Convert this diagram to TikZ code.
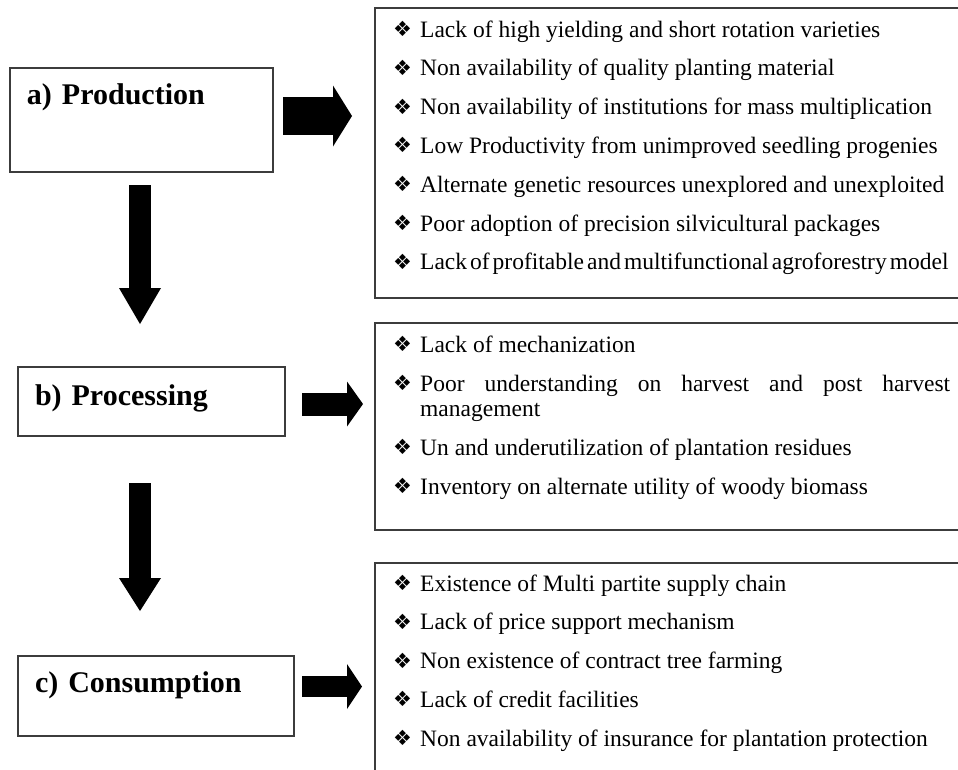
\documentclass[tikz,border=0pt]{standalone}
\usepackage{fontspec}
\setmainfont{Liberation Serif}
\newfontfamily\dingfont{DejaVu Sans}
\usetikzlibrary{arrows.meta}
\definecolor{framegray}{RGB}{60,60,60}
\newcommand\issue[1]{\hangindent=27pt\hangafter=1\noindent\makebox[27pt][l]{\raisebox{0.5pt}{\fontsize{21}{25}\dingfont ❖}}#1\par}
\newcommand\listsetup{\setlength\parskip{13.8pt}\tolerance=9999\relax\hyphenpenalty=10000\relax}
\begin{document}
\begin{tikzpicture}[x=1pt,y=-1pt,
  stage/.style={draw=framegray,line width=1.2pt,anchor=north west,outer sep=0pt,inner xsep=17pt,inner ysep=0pt,align=left,font=\fontsize{30}{36}\selectfont\bfseries},
  listframe/.style={draw=framegray,line width=2pt,anchor=north west,outer sep=0pt,inner sep=0pt,minimum width=700pt},
  listtext/.style={anchor=base west,inner sep=0pt,text width=557pt,align=justify,font=\fontsize{23.5}{25}\selectfont}]
\useasboundingbox (0,0) rectangle (958,769);
\clip (0,0) rectangle (958,769);

% stages
\node[stage,text width=229pt,text height=36pt,text depth=68pt] (prod) at (10,68) {a) Production};
\node[stage,text width=233pt,text height=38pt,text depth=31pt] (proc) at (18,367) {b) Processing};
\node[stage,text width=242pt,text height=36pt,text depth=44pt] (cons) at (18,656) {c) Consumption};

% frames on the right
\node[listframe,minimum height=290pt] (prodframe) at (375,8) {};
\node[listframe,minimum height=207pt] (procframe) at (375,323) {};
\node[listframe,minimum height=300pt] (consframe) at (375,563) {};

\node[listtext] (prodlist) at (393,37) {\listsetup
\issue{Lack of high yielding and short rotation varieties}
\issue{Non availability of quality planting material}
\issue{Non availability of institutions for mass multiplication}
\issue{Low Productivity from unimproved seedling progenies}
\issue{Alternate genetic resources unexplored and unexploited}
\issue{Poor adoption of precision silvicultural packages}
{\spaceskip=3pt plus 1pt minus 1pt\issue{Lack of profitable and multifunctional agroforestry model}}};

\node[listtext] (proclist) at (393,352) {\listsetup\setlength\parskip{14pt}%
\issue{Lack of mechanization}
\issue{Poor understanding on harvest and post harvest management}
\issue{Un and underutilization of plantation residues}
\issue{Inventory on alternate utility of woody biomass}};

\node[listtext] (conslist) at (393,591) {\listsetup
\issue{Existence of Multi partite supply chain}
\issue{Lack of price support mechanism}
\issue{Non existence of contract tree farming}
\issue{Lack of credit facilities}
\issue{Non availability of insurance for plantation protection}};

% block arrows
\draw[line width=38pt,-{Triangle[width=61pt 0 0,length=19pt 0 0,line width=0pt 0 0]},shorten <=10pt,shorten >=23pt,transform canvas={yshift=4pt}] (prod.east) -- (prod.east -| prodframe.west);
\draw[line width=23pt,-{Triangle[width=45pt 0 0,length=16pt 0 0,line width=0pt 0 0]},shorten <=17pt,shorten >=12pt,transform canvas={yshift=-2.5pt}] (proc.east) -- (proc.east -| procframe.west);
\draw[line width=21pt,-{Triangle[width=45pt 0 0,length=15pt 0 0,line width=0pt 0 0]},shorten <=8pt,shorten >=13pt,transform canvas={yshift=9.5pt}] (cons.east) -- (cons.east -| consframe.west);

\draw[line width=22pt,-{Triangle[width=42pt 0 0,length=36pt 0 0,line width=0pt 0 0]},shorten <=13pt,shorten >=43pt,transform canvas={xshift=-1.5pt}] (prod.south) -- (prod.south |- proc.north);
\draw[line width=22pt,-{Triangle[width=42pt 0 0,length=33pt 0 0,line width=0pt 0 0]},shorten <=47pt,shorten >=45pt,transform canvas={xshift=-1.5pt}] (prod.south |- proc.south) -- (prod.south |- cons.north);
\end{tikzpicture}
\end{document}
